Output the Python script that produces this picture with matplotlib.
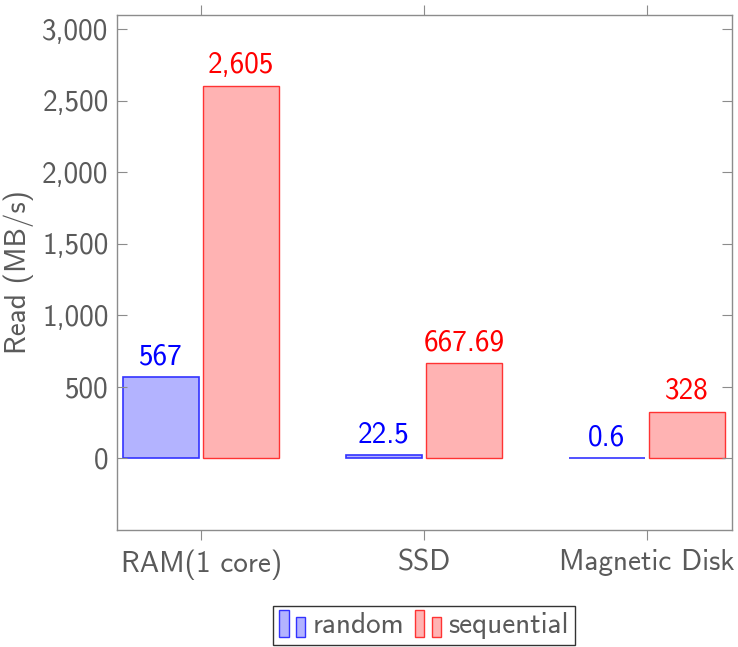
import matplotlib
matplotlib.use("Agg")
import matplotlib.pyplot as plt
from matplotlib.patches import Rectangle
from matplotlib.legend_handler import HandlerBase
from matplotlib.ticker import FuncFormatter
import numpy as np

categories = ["RAM(1 core)", "SSD", "Magnetic Disk"]
random_vals = [567, 22.5, 0.6]
sequential_vals = [2605, 667.69, 328]
random_labels = ["567", "22.5", "0.6"]
sequential_labels = ["2,605", "667.69", "328"]
yticks = [0, 500, 1000, 1500, 2000, 2500, 3000]

plt.rcParams['font.family'] = ['cmss10', 'DejaVu Sans']
plt.rcParams['axes.formatter.use_mathtext'] = True

gray_text = '#5a5a5a'
spine_col = '#8c8c8c'
blue_fill = '#b3b3ff'
red_fill = '#ffb3b3'
FS = 21

fig = plt.figure(figsize=(7.38, 6.47), dpi=100)
ax = fig.add_axes([117/738, 117/647, (732-117)/738, (530-15)/647])

x = np.arange(len(categories))
w = 0.34
off = 0.18
b1 = ax.bar(x - off, random_vals, w, color=blue_fill, edgecolor='#3333ff', linewidth=1.2, label='random')
b2 = ax.bar(x + off, sequential_vals, w, color=red_fill, edgecolor='#ff3333', linewidth=1.0, label='sequential')

for xi, v, s in zip(x - off, random_vals, random_labels):
    ax.annotate(s, (xi, v), xytext=(0, 5), textcoords='offset points', ha='center', va='bottom',
                color='blue', fontsize=FS)
for xi, v, s in zip(x + off, sequential_vals, sequential_labels):
    ax.annotate(s, (xi, v), xytext=(0, 5), textcoords='offset points', ha='center', va='bottom',
                color='red', fontsize=FS)

ax.set_xlim(-0.377, 2.381)
ax.set_ylim(-500, 3100)
ax.set_xticks(x)
ax.set_xticklabels(categories)
ax.set_yticks(yticks)
ax.yaxis.set_major_formatter(FuncFormatter(lambda v, p: f"{v:,.0f}"))
ax.tick_params(axis='x', direction='out', length=7, width=0.8, color=spine_col,
               labelcolor=gray_text, labelsize=FS, top=True, pad=7)
ax.tick_params(axis='y', direction='in', length=7, width=0.8, color=spine_col,
               labelcolor=gray_text, labelsize=FS, right=True, pad=6)
for sp in ax.spines.values():
    sp.set_color(spine_col)
    sp.set_linewidth(1.0)
ax.set_ylabel("Read (MB/s)", color=gray_text, fontsize=FS, labelpad=6)


class TwoBarHandler(HandlerBase):
    def __init__(self, fc, ec):
        super().__init__()
        self.fc = fc
        self.ec = ec

    def create_artists(self, legend, orig_handle, xdescent, ydescent, width, height, fontsize, trans):
        bw = width * 0.36
        r1 = Rectangle((-xdescent, -ydescent - height * 0.2), bw, height * 1.3,
                       facecolor=self.fc, edgecolor=self.ec, linewidth=1.0, transform=trans)
        r2 = Rectangle((-xdescent + width * 0.64, -ydescent - height * 0.2), bw, height * 1.0,
                       facecolor=self.fc, edgecolor=self.ec, linewidth=1.0, transform=trans)
        return [r1, r2]


leg = fig.legend([b1, b2], ['random', 'sequential'], loc='upper center',
                 bbox_to_anchor=(424/738, (647-606)/647), ncol=2, fontsize=FS,
                 handler_map={b1: TwoBarHandler(blue_fill, '#3333ff'),
                              b2: TwoBarHandler(red_fill, '#ff3333')},
                 handlelength=0.9, handletextpad=0.25, columnspacing=0.35,
                 frameon=True, fancybox=False, edgecolor='black', borderpad=0.2,
                 borderaxespad=0)
leg.get_frame().set_linewidth(1.0)
for t in leg.get_texts():
    t.set_color(gray_text)

fig.savefig("out.png", dpi=100)
